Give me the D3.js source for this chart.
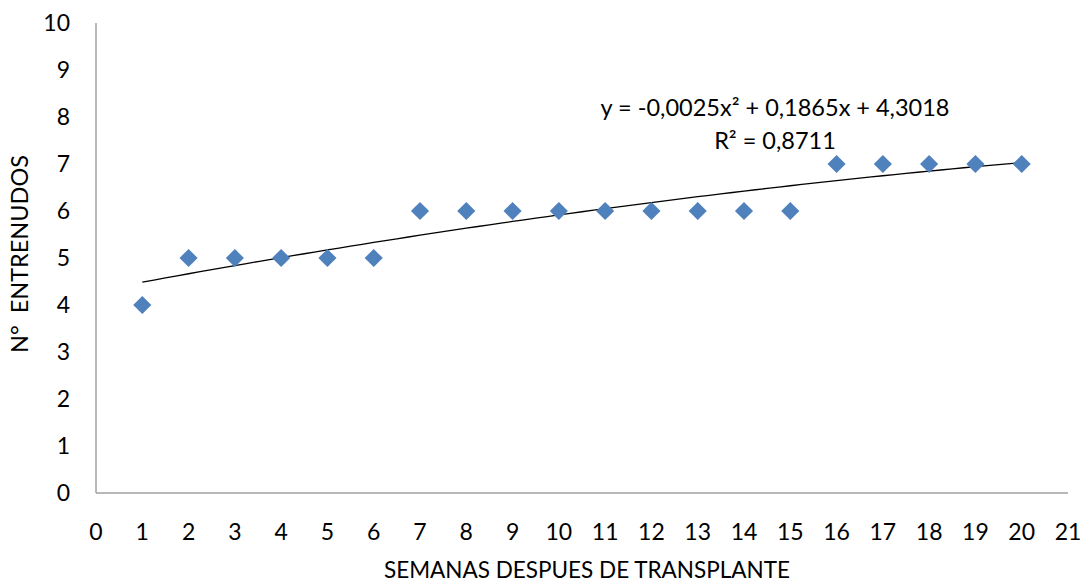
<!DOCTYPE html>
<html>
<head>
<meta charset="utf-8">
<script src="https://cdn.jsdelivr.net/npm/d3@7"></script>
<style>
  html, body { margin: 0; padding: 0; background: #fff; }
  svg { display: block; font-family: Lato, "Open Sans", sans-serif; }
</style>
</head>
<body>
<svg id="chart" width="1090" height="584"></svg>
<script>
// Weeks after transplant and internode counts
const weeks = [1,2,3,4,5,6,7,8,9,10,11,12,13,14,15,16,17,18,19,20];
const internodes = [4,5,5,5,5,5,6,6,6,6,6,6,6,6,6,7,7,7,7,7];
const xTicks = d3.range(0, 22);
const yTicks = d3.range(0, 11);
// Polynomial trendline coefficients (order 2)
const trendCoef = [4.3018, 0.1865, -0.0025];
const trendLabel = "y = -0,0025x² + 0,1865x + 4,3018";
const r2Label = "R² = 0,8711";

const svg = d3.select("#chart");
const plotLeft = 96, plotRight = 1068, plotTop = 23, plotBottom = 493;

const x = d3.scaleLinear().domain([0, 21]).range([plotLeft, plotRight]);
const y = d3.scaleLinear().domain([0, 10]).range([plotBottom, plotTop]);

// axis lines
svg.append("line").attr("x1", plotLeft).attr("x2", plotLeft).attr("y1", y(10)).attr("y2", plotBottom)
  .attr("stroke", "#a0a0a0").attr("stroke-width", 1.5);
svg.append("line").attr("x1", plotLeft).attr("x2", plotRight).attr("y1", plotBottom).attr("y2", plotBottom)
  .attr("stroke", "#a0a0a0").attr("stroke-width", 1.5);

// tick labels
svg.append("g").selectAll("text").data(yTicks).join("text")
  .attr("x", 70).attr("y", d => y(d)).attr("dy", "0.36em")
  .attr("text-anchor", "end").attr("font-size", 23).attr("fill", "#000")
  .text(d => d);
svg.append("g").selectAll("text").data(xTicks).join("text")
  .attr("x", d => x(d)).attr("y", 540)
  .attr("text-anchor", "middle").attr("font-size", 23).attr("fill", "#000")
  .text(d => d);

// axis titles
svg.append("text").attr("x", 587).attr("y", 578).attr("text-anchor", "middle")
  .attr("font-size", 22.5).text("SEMANAS DESPUES DE TRANSPLANTE");
svg.append("text").attr("transform", "translate(28,254) rotate(-90)")
  .attr("text-anchor", "middle").attr("font-size", 23.5)
  .style("white-space", "pre")
  .text("N°  ENTRENUDOS");

// trendline
const trendX = d3.range(1, 20.01, 0.25);
const poly = t => trendCoef[0] + trendCoef[1] * t + trendCoef[2] * t * t;
svg.append("path")
  .datum(trendX)
  .attr("d", d3.line().x(d => x(d)).y(d => y(poly(d))))
  .attr("fill", "none").attr("stroke", "#000").attr("stroke-width", 1.3);

// markers
const diamond = d3.symbol().type(d3.symbolDiamond2).size(210);
svg.append("g").selectAll("path").data(weeks).join("path")
  .attr("transform", (d, i) => `translate(${x(d)},${y(internodes[i])})`)
  .attr("d", diamond).attr("fill", "#4f81bd");

// trendline equation
svg.append("text").attr("x", 775).attr("y", 116).attr("text-anchor", "middle")
  .attr("font-size", 23.5).text(trendLabel);
svg.append("text").attr("x", 775).attr("y", 149).attr("text-anchor", "middle")
  .attr("font-size", 23.5).text(r2Label);
</script>
</body>
</html>
